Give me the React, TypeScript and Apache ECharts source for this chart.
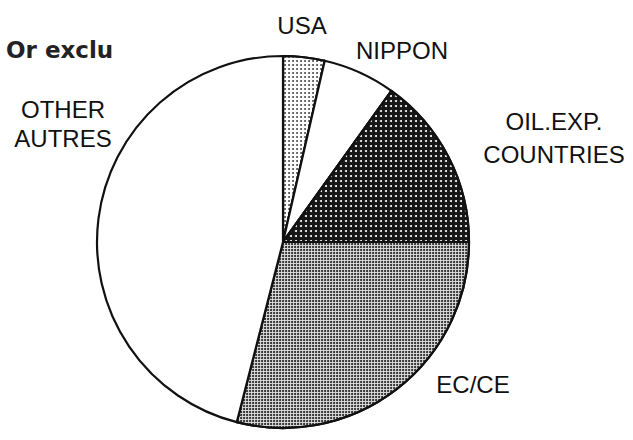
import React, { useEffect, useRef } from "react";
import * as echarts from "echarts";

// Data (shares in %)
const categories = ["USA", "NIPPON", "OIL.EXP.\nCOUNTRIES", "EC/CE", "OTHER\nAUTRES"];
const shares = [3.6, 6.3, 15.1, 29.0, 46.0];
const titleText = "Or exclu";

// Presentation only
const labelPos: number[][] = [
  [302, 25],
  [402, 50],
  [554, 138],
  [473, 384],
  [63, 124],
];
const labelLineHeights = [27, 27, 33, 27, 29];

const fills = ["#ffffff", "#ffffff", "#161616", "#dadada", "#ffffff"];
const decals: any[] = [
  { symbol: "circle", symbolSize: 0.9, color: "#3a3a3a", dashArrayX: [2, 1.5], dashArrayY: [2, 1.5] },
  null,
  { symbol: "circle", symbolSize: 1, color: "#ffffff", dashArrayX: [2, 2.5], dashArrayY: [2, 2.5] },
  { symbol: "circle", symbolSize: 1, color: "#222222", dashArrayX: [2, 0.8], dashArrayY: [2, 0.8] },
  null,
];

const LABEL_FONT = "'Liberation Sans', Arial, sans-serif";

export default function App() {
  const ref = useRef<HTMLDivElement>(null);
  useEffect(() => {
    if (!ref.current) return;
    const chart = echarts.init(ref.current, null, { renderer: "svg" });
    const data = categories.map((name, i) => {
      const item: any = {
        name,
        value: shares[i],
        itemStyle: { color: fills[i] },
        label: { lineHeight: labelLineHeights[i] },
      };
      if (decals[i]) item.itemStyle.decal = decals[i];
      return item;
    });
    chart.setOption({
      animation: false,
      backgroundColor: "#ffffff",
      title: {
        text: titleText,
        left: 1,
        top: 33,
        textStyle: {
          fontFamily: "'DejaVu Sans', sans-serif",
          fontWeight: "bold",
          fontSize: 23,
          color: "#222222",
        },
      },
      series: [
        {
          type: "pie",
          radius: 186,
          center: [283, 242],
          startAngle: 90,
          clockwise: true,
          silent: true,
          avoidLabelOverlap: false,
          itemStyle: { borderColor: "#111111", borderWidth: 2.2 },
          emphasis: { disabled: true },
          labelLine: { show: false },
          label: {
            show: true,
            position: "outside",
            formatter: "{b}",
            fontFamily: LABEL_FONT,
            fontSize: 24,
            color: "#111111",
            align: "center",
          },
          labelLayout: (params: any) => {
            const p = labelPos[params.dataIndex];
            return { x: p[0], y: p[1], align: "center", verticalAlign: "middle" };
          },
          data,
        },
      ],
    });
    return () => chart.dispose();
  }, []);
  return (
    <div
      ref={ref}
      style={{ position: "absolute", left: 0, top: 0, width: 633, height: 440, background: "#fff" }}
    />
  );
}
